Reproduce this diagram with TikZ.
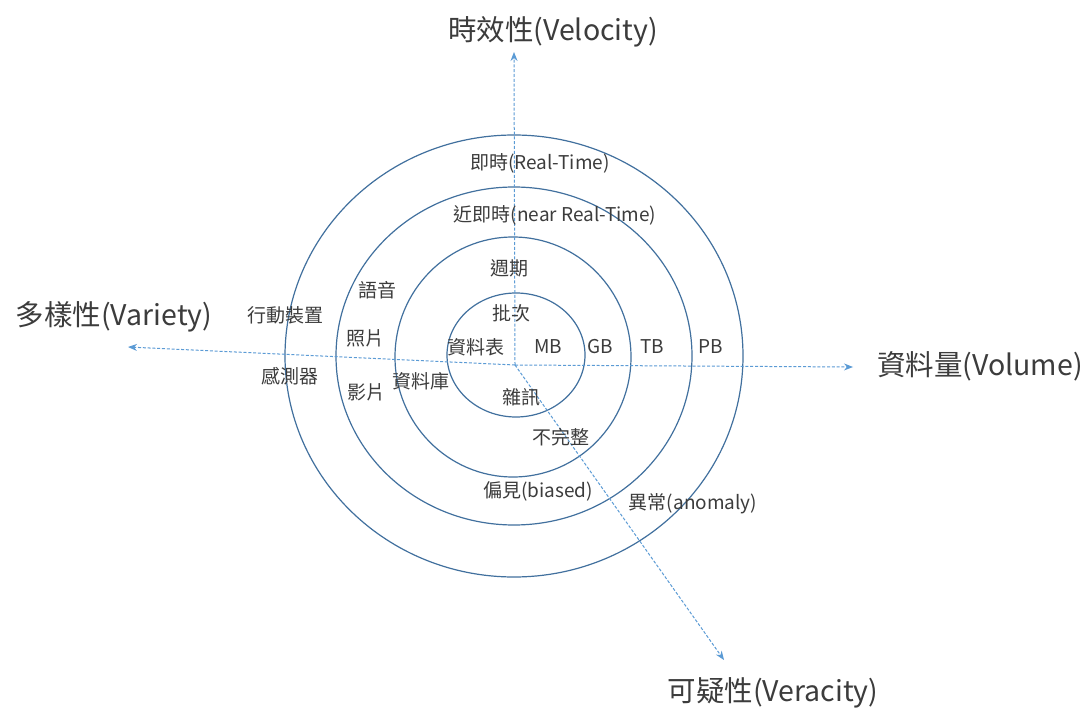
\documentclass[tikz,border=0pt]{standalone}
\usepackage{fontspec}
\setmainfont{Noto Sans CJK TC}
\usetikzlibrary{arrows.meta}
\definecolor{ringblue}{HTML}{41709E}
\definecolor{axisblue}{HTML}{5B9BD5}
\definecolor{labelgray}{HTML}{3C3C3C}
\tikzset{
  ring/.style={draw=ringblue, line width=1.2pt},
  axisline/.style={draw=axisblue, line width=1pt, dash pattern=on 3pt off 1.8pt,
    -{Stealth[length=9pt,width=7pt]}},
  biglabel/.style={text=labelgray, inner sep=0pt, font=\fontsize{28.5}{32}\selectfont},
  smalllabel/.style={text=labelgray, inner sep=0pt, font=\fontsize{19}{22}\selectfont},
}
\begin{document}
\begin{tikzpicture}[x=1pt,y=-1pt]
\useasboundingbox (0,0) rectangle (1092,711);
\fill[white] (0,0) rectangle (1092,711);

% concentric rings
\draw[ring] (516,355) ellipse [x radius=69pt, y radius=62pt];
\draw[ring] (513,357) ellipse [x radius=118pt, y radius=120pt];
\draw[ring] (514,356) ellipse [x radius=178pt, y radius=169pt];
\draw[ring] (514,356) ellipse [x radius=229pt, y radius=221pt];

% axes from the common origin
\coordinate (o) at (515,365);
\coordinate (vtip) at (514,52);
\coordinate (ltip) at (128,347);
\coordinate (rtip) at (853,367);
\coordinate (dtip) at (724,660);
\draw[axisline] (o) -- (vtip);
\draw[axisline] (o) -- (ltip);
\draw[axisline] (o) -- (rtip);
\draw[axisline] (o) -- (dtip);

% axis titles
\node[biglabel] (velocity) at (553,32) {時效性(Velocity)};
\node[biglabel] (variety) at (114,317) {多樣性(Variety)};
\node[biglabel] (volume) at (980,366) {資料量(Volume)};
\node[biglabel] (veracity) at (773,693) {可疑性(Veracity)};

% velocity
\node[smalllabel] (realtime) at (540,163) {即時(Real-Time)};
\node[smalllabel] (nearrt) at (555,215) {近即時(near Real-Time)};
\node[smalllabel] (periodic) at (509,268) {週期};
\node[smalllabel] (batch) at (511,313) {批次};

% volume
\node[smalllabel] (mb) at (548,347) {MB};
\node[smalllabel] (gb) at (600,347) {GB};
\node[smalllabel] (tb) at (652,347) {TB};
\node[smalllabel] (pb) at (711,347) {PB};

% variety
\node[smalllabel] (table) at (476,347) {資料表};
\node[smalllabel] (database) at (421,381) {資料庫};
\node[smalllabel] (voice) at (377,290) {語音};
\node[smalllabel] (photo) at (365,338) {照片};
\node[smalllabel] (video) at (366,392) {影片};
\node[smalllabel] (mobile) at (285,315) {行動裝置};
\node[smalllabel] (sensor) at (290,376) {感測器};

% veracity
\node[smalllabel] (noise) at (521,397) {雜訊};
\node[smalllabel] (incomplete) at (561,437) {不完整};
\node[smalllabel] (biased) at (538,491) {偏見(biased)};
\node[smalllabel] (anomaly) at (693,504) {異常(anomaly)};
\end{tikzpicture}
\end{document}
